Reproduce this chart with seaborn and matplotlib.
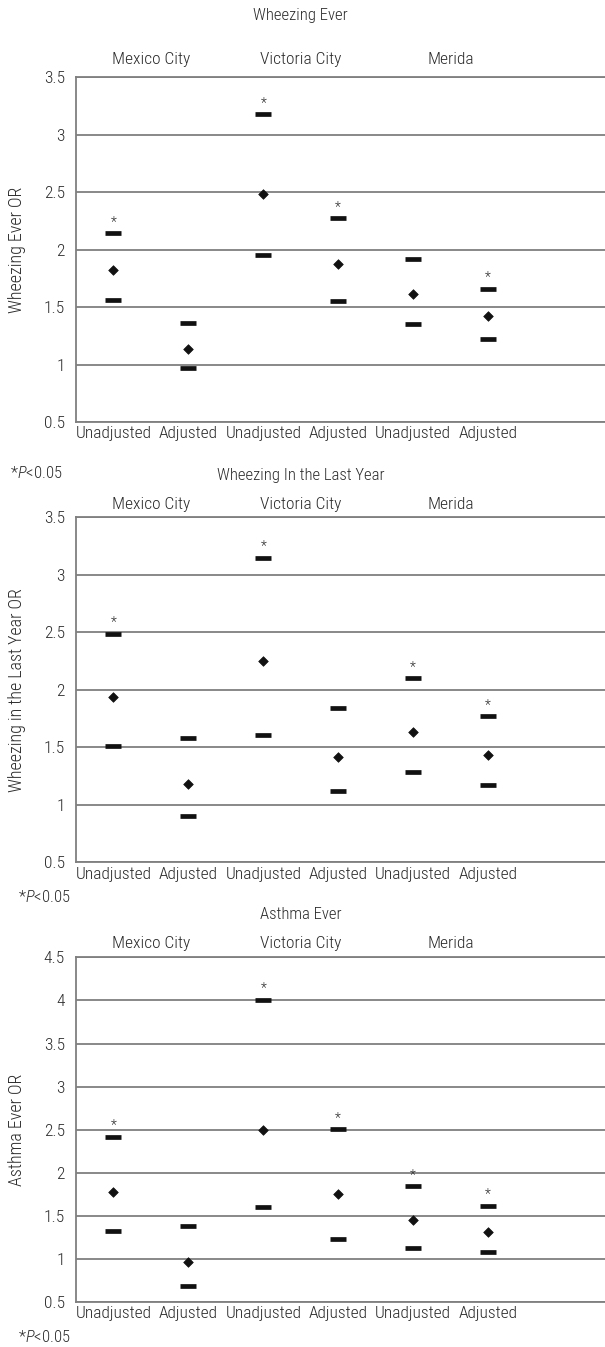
import numpy as np
import pandas as pd
import matplotlib
matplotlib.use("Agg")
import matplotlib.pyplot as plt
import seaborn as sns

# categories
cities = ["Mexico City", "Victoria City", "Merida"]
groups = ["Unadjusted", "Adjusted", "Unadjusted", "Adjusted", "Unadjusted", "Adjusted"]

# Wheezing ever
wheeze_ever_or = [1.82, 1.135, 2.48, 1.87, 1.61, 1.42]
wheeze_ever_lo = [1.56, 0.97, 1.95, 1.55, 1.35, 1.22]
wheeze_ever_hi = [2.14, 1.36, 3.18, 2.27, 1.92, 1.66]
wheeze_ever_sig = [1, 0, 1, 1, 0, 1]

# Wheezing in the last year
wheeze_year_or = [1.94, 1.18, 2.25, 1.42, 1.63, 1.43]
wheeze_year_lo = [1.51, 0.90, 1.61, 1.12, 1.29, 1.17]
wheeze_year_hi = [2.49, 1.58, 3.15, 1.84, 2.10, 1.77]
wheeze_year_sig = [1, 0, 1, 0, 1, 1]

# Asthma ever
asthma_or = [1.78, 0.97, 2.50, 1.75, 1.45, 1.32]
asthma_lo = [1.33, 0.69, 1.60, 1.23, 1.13, 1.08]
asthma_hi = [2.42, 1.385, 4.01, 2.51, 1.85, 1.62]
asthma_sig = [1, 0, 1, 1, 1, 1]

panels = [
    ("Wheezing Ever", "Wheezing Ever OR", wheeze_ever_or, wheeze_ever_lo, wheeze_ever_hi, wheeze_ever_sig, (0.5, 3.5)),
    ("Wheezing In the Last Year", "Wheezing in the Last Year OR", wheeze_year_or, wheeze_year_lo, wheeze_year_hi, wheeze_year_sig, (0.5, 3.5)),
    ("Asthma Ever", "Asthma Ever OR", asthma_or, asthma_lo, asthma_hi, asthma_sig, (0.5, 4.5)),
]

sns.set_theme(style="white")
plt.rcParams["font.family"] = ["Roboto Condensed", "Liberation Sans", "DejaVu Sans"]
plt.rcParams["font.weight"] = "light"
plt.rcParams["axes.labelweight"] = "light"
plt.rcParams["mathtext.fontset"] = "custom"
plt.rcParams["mathtext.it"] = "Roboto Condensed:italic:light"
plt.rcParams["mathtext.rm"] = "Roboto Condensed:light"

txt = "#2b2b2b"
grid = "#7f7f7f"

fig = plt.figure(figsize=(6.05, 13.47), dpi=100)

# axes bottoms (figure fraction), title / city label heights (axes fraction)
boxes = [(0.6867, 1.177, 1.052), (0.3598, 1.12, 1.036), (0.0332, 1.123, 1.041)]
notes_y = [1 - 473 / 1347, 1 - 897 / 1347, 1 - 1337 / 1347]
notes_x = [10 / 605, 18 / 605, 18 / 605]

for (title, ylab, est, lo, hi, sig, ylim), (bot, ty, cy), nx, ny in zip(panels, boxes, notes_x, notes_y):
    ax = fig.add_axes([0.1256, bot, 0.8744, 0.2561])
    df = pd.DataFrame({"pos": np.arange(len(groups)), "est": est, "lo": lo, "hi": hi, "sig": sig})

    # upper / lower limits as dashes, odds ratio as diamond
    sns.scatterplot(data=df, x="pos", y="hi", marker="_", s=140, color="#111111",
                    linewidth=3.4, ax=ax, zorder=3)
    sns.scatterplot(data=df, x="pos", y="lo", marker="_", s=140, color="#111111",
                    linewidth=3.4, ax=ax, zorder=3)
    sns.scatterplot(data=df, x="pos", y="est", marker="D", s=24, color="#111111",
                    edgecolor="#111111", linewidth=0.5, ax=ax, zorder=3)

    for _, r in df[df.sig == 1].iterrows():
        ax.annotate("*", (r.pos, r.hi), xytext=(0, 3), textcoords="offset points",
                    ha="center", va="bottom", fontsize=10, color=txt)

    ticks = np.arange(ylim[0], ylim[1] + 0.01, 0.5)
    ax.set_xlim(-0.5, 6.56)
    ax.set_ylim(*ylim)
    ax.set_yticks(ticks)
    ax.set_yticklabels([f"{v:g}" for v in ticks])
    ax.set_xticks(df.pos)
    ax.set_xticklabels(groups)
    ax.set_xticks(np.arange(0.5, 5, 1), minor=True)
    ax.tick_params(axis="x", which="major", length=0, pad=3, labelsize=12.5, colors=txt)
    ax.tick_params(axis="x", which="minor", length=4, width=0.8, color="#bbbbbb", direction="out")
    ax.tick_params(axis="y", length=3, width=1, pad=5, labelsize=12.5, labelcolor=txt, color=grid)

    ax.yaxis.grid(True, color=grid, linewidth=1.3)
    ax.set_axisbelow(True)
    for side in ["left", "bottom", "top"]:
        ax.spines[side].set_visible(True)
        ax.spines[side].set_color(grid)
        ax.spines[side].set_linewidth(1.3)
    ax.spines["right"].set_visible(False)

    ax.set_xlabel("")
    ax.set_ylabel(ylab, fontsize=13, color=txt, fontweight="light")
    ax.yaxis.set_label_coords(-0.095, 0.5)

    ax.text(2.5, ty, title, transform=ax.get_xaxis_transform(), ha="center", va="center",
            fontsize=12, color=txt)
    for i, c in enumerate(cities):
        ax.text(2 * i + 0.5, cy, c, transform=ax.get_xaxis_transform(), ha="center",
                va="center", fontsize=12.5, color=txt)

    fig.text(nx, ny, r"*$\mathit{P}$<0.05", ha="left", va="center", fontsize=12, color=txt)

fig.savefig("out.png", dpi=100)
